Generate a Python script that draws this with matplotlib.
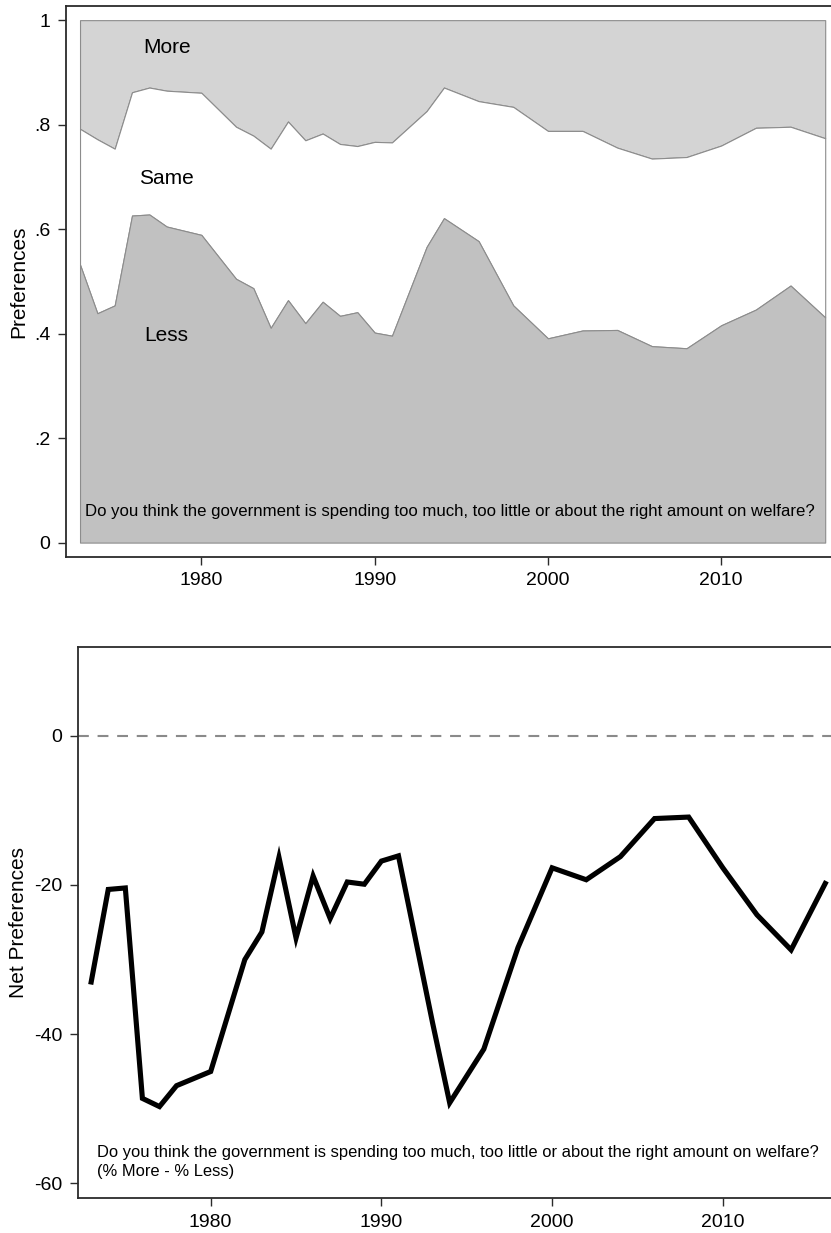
import matplotlib
matplotlib.use("Agg")
import matplotlib.pyplot as plt

plt.rcParams["font.family"] = ["Liberation Sans", "DejaVu Sans"]

# GSS survey years
years = [1973, 1974, 1975, 1976, 1977, 1978, 1980, 1982, 1983, 1984,
         1985, 1986, 1987, 1988, 1989, 1990, 1991, 1993, 1994, 1996,
         1998, 2000, 2002, 2004, 2006, 2008, 2010, 2012, 2014, 2016]

# share saying "too little" (want more) and "too much" (want less)
more_share = [0.208, 0.228, 0.246, 0.138, 0.129, 0.135, 0.139, 0.204, 0.221, 0.246,
              0.194, 0.230, 0.217, 0.237, 0.241, 0.233, 0.234, 0.174, 0.129, 0.155,
              0.166, 0.212, 0.212, 0.244, 0.265, 0.262, 0.240, 0.206, 0.204, 0.226]
less_share = [0.532, 0.439, 0.454, 0.626, 0.628, 0.605, 0.589, 0.505, 0.487, 0.411,
              0.464, 0.420, 0.461, 0.434, 0.441, 0.402, 0.396, 0.566, 0.621, 0.577,
              0.454, 0.391, 0.406, 0.407, 0.376, 0.372, 0.416, 0.446, 0.492, 0.431]

# % More - % Less
net_pref = [-33.0, -20.6, -20.4, -48.6, -49.7, -46.9, -45.0, -30.0, -26.3, -16.3,
            -27.1, -18.8, -24.5, -19.6, -19.9, -16.8, -16.1, -38.5, -49.2, -42.0,
            -28.4, -17.7, -19.3, -16.2, -11.1, -10.9, -17.7, -24.0, -28.7, -19.8]

x_ticks = [1980, 1990, 2000, 2010]
top_y_ticks = [0, 0.2, 0.4, 0.6, 0.8, 1.0]
top_y_labels = ["0", ".2", ".4", ".6", ".8", "1"]
bottom_y_ticks = [-60, -40, -20, 0]
bottom_y_labels = ["-60", "-40", "-20", "0"]

QUESTION = "Do you think the government is spending too much, too little or about the right amount on welfare?"

FRAME = "#2b2b2b"
EDGE = "#8c8c8c"


def style_axes(ax):
    for side in ("top", "left", "bottom"):
        ax.spines[side].set_color(FRAME)
        ax.spines[side].set_linewidth(1.3)
    ax.spines["right"].set_visible(False)
    ax.tick_params(axis="both", direction="out", length=6, width=1.0,
                   color=FRAME, labelsize=14, pad=5)
    ax.set_xticks(x_ticks)
    ax.set_xticklabels([str(t) for t in x_ticks])


def plot_shares(ax):
    upper = [1 - m for m in more_share]
    ax.fill_between(years, upper, 1, facecolor="#d4d4d4", edgecolor=EDGE, linewidth=0.8)
    ax.fill_between(years, less_share, upper, facecolor="white", edgecolor=EDGE, linewidth=0.8)
    ax.fill_between(years, 0, less_share, facecolor="#c1c1c1", edgecolor=EDGE, linewidth=0.8)

    ax.text(1978, 0.948, "More", fontsize=15, ha="center", va="center")
    ax.text(1978, 0.697, "Same", fontsize=15, ha="center", va="center")
    ax.text(1978, 0.396, "Less", fontsize=15, ha="center", va="center")
    ax.text(1973.3, 0.06, QUESTION, fontsize=12.1, ha="left", va="center")

    ax.set_xlim(1972.175, 2016.8)
    ax.set_ylim(-0.027, 1.027)
    ax.set_yticks(top_y_ticks)
    ax.set_yticklabels(top_y_labels)
    ax.set_ylabel("Preferences", fontsize=15, labelpad=4)
    style_axes(ax)


def plot_net(ax):
    ax.axhline(0, color="#8a8a8a", linewidth=1.5, linestyle=(0, (5.2, 4.2)))
    ax.plot(years, net_pref, color="black", linewidth=3.7, solid_joinstyle="miter")

    ax.text(1973.36, -55.9, QUESTION, fontsize=11.9, ha="left", va="center")
    ax.text(1973.36, -58.4, "(% More - % Less)", fontsize=11.9, ha="left", va="center")

    ax.set_xlim(1972.21, 2016.79)
    ax.set_ylim(-62.0, 11.85)
    ax.set_yticks(bottom_y_ticks)
    ax.set_yticklabels(bottom_y_labels)
    ax.set_ylabel("Net Preferences", fontsize=15, labelpad=4)
    style_axes(ax)


def main():
    fig = plt.figure(figsize=(8.31, 12.33), dpi=100)
    ax_top = fig.add_axes([0.0791, 0.5485, 0.9306, 0.4466])
    ax_bottom = fig.add_axes([0.0935, 0.0281, 0.9158, 0.4469])

    plot_shares(ax_top)
    plot_net(ax_bottom)

    fig.savefig("out.png", dpi=100)
    plt.close(fig)


if __name__ == "__main__":
    main()
